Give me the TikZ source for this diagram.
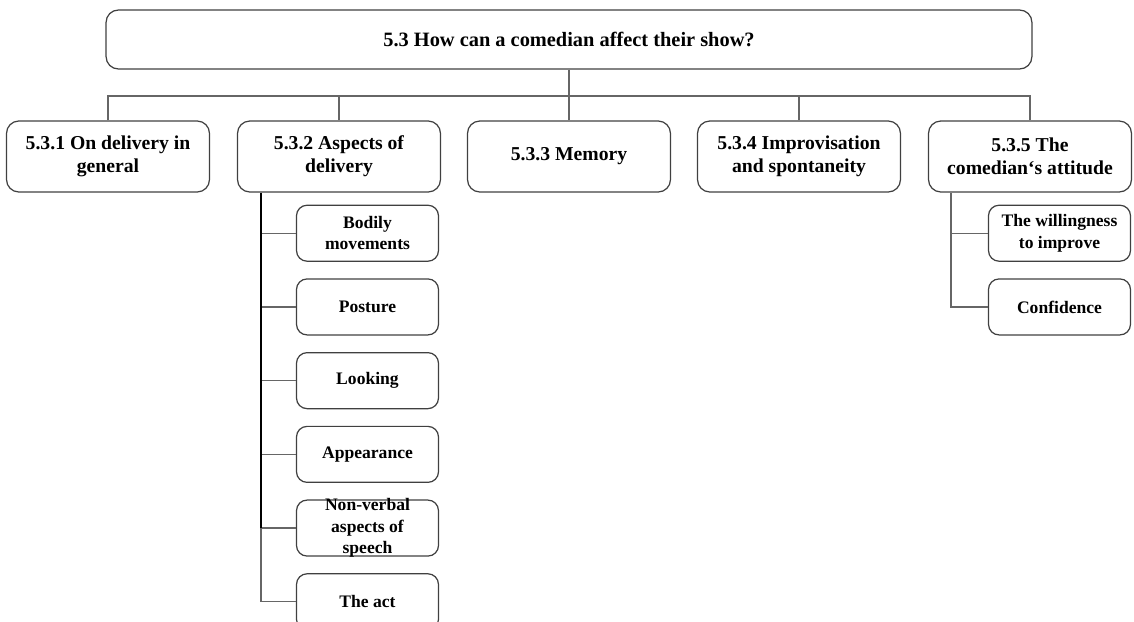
\documentclass[tikz,border=0pt]{standalone}
\usepackage{fontspec}
\setmainfont{Liberation Serif}
\usetikzlibrary{positioning}

\begin{document}
\begin{tikzpicture}[
        x=0.02cm, y=-0.02cm,
        node distance=0.33cm,
        every node/.style={font=\bfseries\fontsize{11.2}{13}\selectfont},
        topbox/.style={draw=black!75, line width=0.7pt, rectangle, rounded corners=7pt, minimum height=1.18cm, minimum width=18.52cm, align=center, font=\bfseries\fontsize{11.6}{13}\selectfont},
        mainbox/.style={draw=black!75, line width=0.7pt, rectangle, rounded corners=7pt, minimum height=1.42cm, minimum width=4.06cm, align=center},
        subbox/.style={draw=black!75, line width=0.7pt, rectangle, rounded corners=6pt, minimum height=1.12cm, minimum width=2.84cm, align=center, font=\bfseries\fontsize{10}{12.2}\selectfont},
        link/.style={draw=black!60, line width=0.7pt},
        spine/.style={draw=black, line width=0.9pt}
    ]
    \useasboundingbox (0,0) rectangle (1134,622);

    % question and the five parts
    \node[topbox] (question) at (569,39.5) {5.3 How can a comedian affect their show?};

    \node[mainbox] (general) at (108,156.5) {5.3.1 On delivery in \\ general};
    \node[mainbox] (aspects) at (339,156.5) {5.3.2 Aspects of \\ delivery};
    \node[mainbox] (memory) at (569,156.5) {5.3.3 Memory};
    \node[mainbox] (improv) at (799,156.5) {5.3.4 Improvisation \\ and spontaneity};
    \node[mainbox] (attitude) at (1030,156.5) {5.3.5 The \\ comedian‘s attitude};

    \coordinate (bus) at (569,96);
    \draw[link] (question.south) -- (bus);
    \foreach \part in {general, aspects, memory, improv, attitude}
        \draw[link] (\part.north) |- (bus);

    % aspects of delivery
    \node[subbox, below left=0.24cm and 0.04cm of aspects.south east] (bodily) {Bodily \\ movements};
    \node[subbox, below=of bodily] (posture) {Posture};
    \node[subbox, below=of posture] (looking) {Looking};
    \node[subbox, below=of looking] (appearance) {Appearance};
    \node[subbox, below=of appearance, inner ysep=-2pt] (nonverbal) {Non-verbal \\ aspects of \\ speech};
    \node[subbox, below=of nonverbal] (act) {The act};

    \coordinate (aspectsline) at ([xshift=0.48cm]aspects.south west);
    \foreach \item in {bodily, posture, looking, appearance, nonverbal, act}
        \draw[link] (\item.west) -| (aspectsline);
    \draw[spine] (aspectsline) -- (aspectsline |- nonverbal.west);

    % attitude
    \node[subbox, below left=0.24cm and 0.02cm of attitude.south east] (improve) {The willingness \\ to improve};
    \node[subbox, below=of improve] (confidence) {Confidence};

    \coordinate (attitudeline) at ([xshift=0.46cm]attitude.south west);
    \foreach \item in {improve, confidence}
        \draw[link] (\item.west) -| (attitudeline);

\end{tikzpicture}
\end{document}
